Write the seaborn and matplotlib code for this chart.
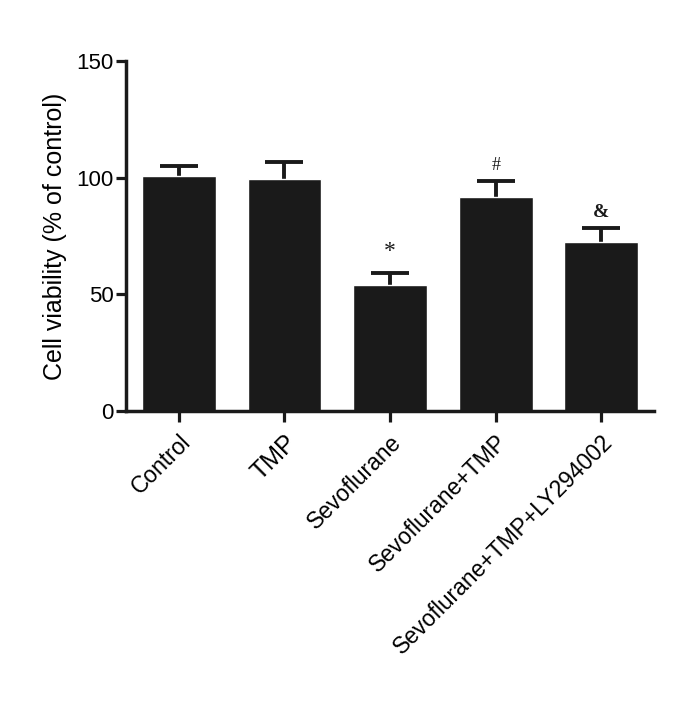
import numpy as np
import pandas as pd
import matplotlib.pyplot as plt
import seaborn as sns

groups = ['Control', 'TMP', 'Sevoflurane', 'Sevoflurane+TMP', 'Sevoflurane+TMP+LY294002']
means = [100.5, 99.3, 53.8, 91.7, 72.4]
sds = [4.5, 7.5, 5.5, 7.0, 6.0]
marks = ['', '', '*', '#', '&']

df = pd.DataFrame({'group': groups, 'viability': means})

sns.set_style('ticks')
plt.rcParams['font.family'] = ['Liberation Sans', 'DejaVu Sans']
plt.rcParams['text.color'] = 'black'
plt.rcParams['axes.labelcolor'] = 'black'
plt.rcParams['xtick.labelcolor'] = 'black'
plt.rcParams['ytick.labelcolor'] = 'black'

fig = plt.figure(figsize=(6.85, 7.01), dpi=100)
ax = fig.add_axes([0.184, 0.4137, 0.771, 0.4993])

sns.barplot(data=df, x='group', y='viability', color='#1a1a1a', width=0.7,
            saturation=1, errorbar=None, ax=ax, zorder=2)

# upper error bars only: lower half sits behind the bars
x = np.arange(len(groups))
ax.errorbar(x, means, yerr=sds, fmt='none',
            ecolor='#1a1a1a', elinewidth=2.8, capsize=14, capthick=2.8, zorder=1)

# significance markers
mark_size = {'*': 17, '#': 13, '&': 14}
mark_off = {'*': 4.5, '#': 3.0, '&': 3.2}
for i, m in enumerate(marks):
    if m:
        ax.text(i, means[i] + sds[i] + mark_off[m], m, ha='center', va='bottom',
                fontsize=mark_size[m], family=['Liberation Serif'],
                fontweight='bold' if m == '&' else 'normal', color='#1a1a1a')

ax.set_xlim(-0.5, 4.5)
ax.set_ylim(0, 150)
ax.set_yticks([0, 50, 100, 150])
ax.set_xlabel('')
ax.set_ylabel('Cell viability (% of control)', fontsize=18, labelpad=7)

ax.set_xticks(x)
ax.set_xticklabels(groups, rotation=45, ha='right', rotation_mode='anchor')
for lab in ax.get_xticklabels():
    lab.set_fontsize(18 if lab.get_text() == 'TMP' else 16.5)

ax.tick_params(axis='y', labelsize=16, length=7, width=2.3, pad=2, color='#1a1a1a')
ax.tick_params(axis='x', length=8, width=2.3, pad=6, color='#1a1a1a')

sns.despine(ax=ax)
for s in ['left', 'bottom']:
    ax.spines[s].set_linewidth(2.5)
    ax.spines[s].set_color('#1a1a1a')

fig.savefig('out.png', dpi=100, facecolor='white')
